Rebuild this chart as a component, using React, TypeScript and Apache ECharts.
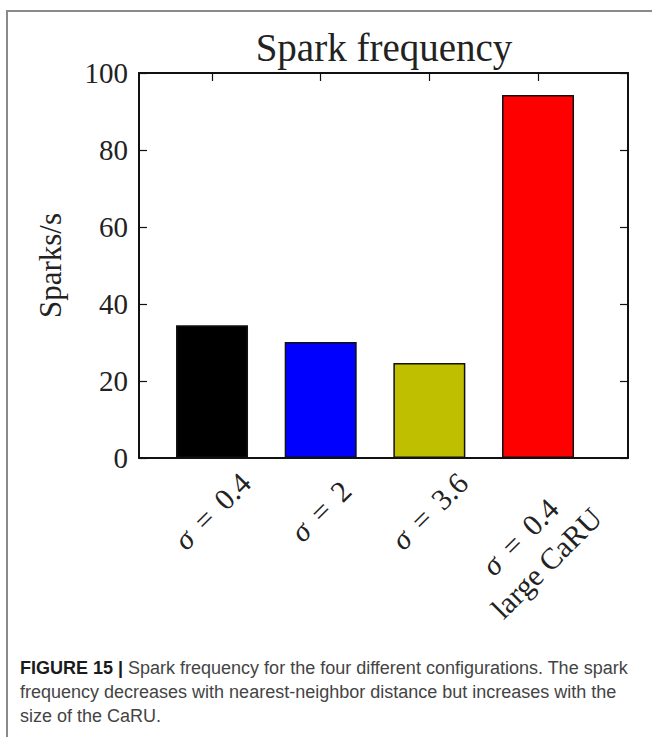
import React, { useEffect, useRef } from "react";
import * as echarts from "echarts";

const categories = ["σ = 0.4", "σ = 2", "σ = 3.6", "σ = 0.4\nlarge CaRU"];
const sparkRates = [34.5, 30.1, 24.7, 94.3];
const barColors = ["#000000", "#0000ff", "#bfbf00", "#ff0000"];
const yMin = 0;
const yMax = 100;
const yStep = 20;
const titleText = "Spark frequency";
const yName = "Sparks/s";
const captionBold = "FIGURE 15 |";
const captionLines = [
  " Spark frequency for the four different configurations. The spark",
  "frequency decreases with nearest-neighbor distance but increases with the",
  "size of the CaRU.",
];

const SERIF = "'Liberation Serif', 'Times New Roman', serif";
const SANS = "'Liberation Sans', Arial, sans-serif";

function labelFor(value: number): string {
  const idx = Math.round(value);
  const text = categories[idx];
  if (text === undefined) return "";
  const lines = text.split("\n");
  const multi = lines.length > 1;
  return lines
    .map((line, li) => {
      const suffix = multi ? (li === 0 ? "T" : "R") : "";
      const m = line.match(/^σ = (.*)$/);
      if (m) {
        return `{i${suffix}|σ}{e${suffix}| = }{n${suffix}|${m[1]}}`;
      }
      return `{n${suffix}|${line}}`;
    })
    .join("\n");
}

export default function App() {
  const ref = useRef<HTMLDivElement>(null);
  useEffect(() => {
    if (!ref.current) return;
    const chart = echarts.init(ref.current, null, { renderer: "svg" });
    const xMin = -0.672;
    const xMax = 3.828;
    const tickVals = categories.map((_, i) => i);
    const labelFont = 30;
    const lh = 34;
    const eqPad = 5;
    const shiftTop = 48;
    const shiftRight = 62;
    const lineGapExtra = 7;
    const ink = "#222";
    const axisLine = { show: true, onZero: false, lineStyle: { color: "#111", width: 2 } };
    const tick = { show: true, inside: true, length: 8, lineStyle: { color: "#111", width: 1.2 } };
    const base = { fontFamily: SERIF, fontSize: labelFont, color: ink };
    chart.setOption({
      animation: false,
      backgroundColor: "#ffffff",
      title: {
        text: titleText,
        left: 379,
        top: 23,
        textAlign: "center",
        textStyle: { fontFamily: SERIF, fontSize: 39, fontWeight: "normal", color: ink },
      },
      grid: { left: 139, top: 73, width: 489, height: 385, containLabel: false },
      xAxis: [
        {
          type: "value",
          position: "bottom",
          min: xMin,
          max: xMax,
          splitLine: { show: false },
          axisLine,
          axisTick: { ...tick, customValues: tickVals },
          axisLabel: {
            show: true,
            customValues: tickVals,
            rotate: 45,
            align: "center",
            verticalAlign: "middle",
            margin: 53,
            formatter: (v: number) => labelFor(v),
            rich: {
              i: { ...base, fontStyle: "italic", lineHeight: lh },
              e: { ...base, lineHeight: lh, padding: [0, eqPad, 0, eqPad] },
              n: { ...base, lineHeight: lh },
              iT: { ...base, fontStyle: "italic", padding: [shiftTop, 0, lineGapExtra, 0] },
              eT: { ...base, padding: [shiftTop, eqPad, lineGapExtra, eqPad] },
              nT: { ...base, padding: [shiftTop, shiftRight, lineGapExtra, 0] },
              nR: { ...base, padding: [0, shiftRight, 0, 0] },
            },
          },
        },
        {
          type: "value",
          position: "top",
          min: xMin,
          max: xMax,
          splitLine: { show: false },
          axisLine,
          axisTick: { ...tick, customValues: tickVals },
          axisLabel: { show: false },
        },
      ],
      yAxis: [
        {
          type: "value",
          position: "left",
          min: yMin,
          max: yMax,
          interval: yStep,
          name: yName,
          nameLocation: "middle",
          nameGap: 73,
          nameTextStyle: { fontFamily: SERIF, fontSize: 31, color: ink },
          splitLine: { show: false },
          axisLine,
          axisTick: tick,
          axisLabel: { margin: 11, fontFamily: SERIF, fontSize: 29, color: ink },
        },
        {
          type: "value",
          position: "right",
          min: yMin,
          max: yMax,
          interval: yStep,
          splitLine: { show: false },
          axisLine,
          axisTick: tick,
          axisLabel: { show: false },
        },
      ],
      series: [
        {
          type: "bar",
          xAxisIndex: 0,
          yAxisIndex: 0,
          barWidth: 72,
          data: sparkRates.map((v, i) => ({
            value: [i, v],
            itemStyle: { color: barColors[i], borderColor: "#111", borderWidth: 1.5 },
          })),
        },
      ],
      graphic: [
        {
          type: "polyline",
          shape: { points: [[7, 760], [7, 11], [680, 11]] },
          style: { stroke: "#8a8a8a", lineWidth: 2, fill: "none" },
          silent: true,
        },
        {
          type: "text",
          left: 20,
          top: 659,
          style: {
            text:
              `{b|${captionBold}}{r|${captionLines[0]}}\n{r|${captionLines[1]}}\n{r|${captionLines[2]}}`,
            rich: {
              b: { fontFamily: SANS, fontSize: 18, fontWeight: "bold", fill: "#1a1a1a", lineHeight: 24 },
              r: { fontFamily: SANS, fontSize: 18, fill: "#444", lineHeight: 24 },
            },
          },
        },
      ],
    });
    return () => chart.dispose();
  }, []);
  return (
    <div
      ref={ref}
      style={{ position: "fixed", left: 0, top: 0, width: 652, height: 737, background: "#fff" }}
    />
  );
}
